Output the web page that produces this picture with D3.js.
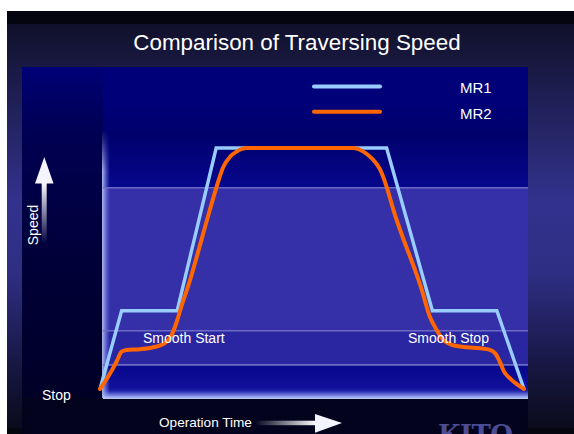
<!DOCTYPE html>
<html>
<head>
<meta charset="utf-8">
<script src="https://cdn.jsdelivr.net/npm/d3@7"></script>
<style>
  body { margin: 0; background: #fff; }
  svg text { font-family: "Liberation Sans", Arial, sans-serif; fill: #fff; }
</style>
</head>
<body>
<svg id="chart" width="574" height="434"></svg>
<script>
// time in % of the run, speed in % of top speed
var mr1Time  = [0, 5.1, 18.2, 27.4, 67.6, 78.4, 93.6, 100];
var mr1Speed = [0, 32.5, 32.5, 100, 100, 32.5, 32.5, 0];

var mr2Time  = [0, 2.4, 3.9, 5.1, 6.3, 9.4, 12.6, 15.3, 16.9, 18.1, 19.3, 20.5, 25.9, 27.5, 29.1, 30.7, 32.2, 34.6,
                59.7, 62.1, 64.1, 66.0, 67.6, 69.2, 75.9, 77.8, 79.4, 81.0, 83.0, 86.5, 89.6, 92.0, 93.2, 94.3, 95.3, 96.7, 98.3, 100];
var mr2Speed = [0, 6.5, 11.3, 15.5, 16.2, 16.5, 17.3, 19.0, 22.4, 27.9, 34.9, 41.1, 74.3, 83.9, 92.2, 96.4, 98.5, 100,
                100, 98.5, 95.7, 91.3, 83.9, 74.3, 41.1, 30.0, 24.5, 20.3, 18.3, 17.3, 16.9, 16.2, 14.8, 11.3, 7.2, 4.4, 2.0, 0];

var gridSpeeds = [83.5, 24.2, 10];
var seriesNames = ["MR1", "MR2"];
var seriesColors = ["#99ccff", "#ff6600"];

var svg = d3.select("#chart");
var x = d3.scaleLinear().domain([0, 100]).range([100, 524]);
var y = d3.scaleLinear().domain([0, 100]).range([389, 148]);

var plotL = 103, plotR = 528, plotB = 398;

var defs = svg.append("defs");
function vGrad(id, stops) {
  var g = defs.append("linearGradient").attr("id", id)
      .attr("x1", 0).attr("y1", 0).attr("x2", 0).attr("y2", 1);
  stops.forEach(function(s) {
    g.append("stop").attr("offset", s[0]).attr("stop-color", s[1]).attr("stop-opacity", s[2] == null ? 1 : s[2]);
  });
}
function hGrad(id, stops) {
  var g = defs.append("linearGradient").attr("id", id)
      .attr("x1", 0).attr("y1", 0).attr("x2", 1).attr("y2", 0);
  stops.forEach(function(s) {
    g.append("stop").attr("offset", s[0]).attr("stop-color", s[1]).attr("stop-opacity", s[2] == null ? 1 : s[2]);
  });
}
vGrad("slideGrad", [[0, "#0e0e22"], [0.12, "#181840"], [0.45, "#32328e"], [0.62, "#2e2e84"], [0.85, "#161640"], [1, "#0a0a18"]]);
vGrad("leftGrad", [[0, "#000030", 0], [0.2, "#000040", 0.7], [0.5, "#00003a", 1], [1, "#000022", 1]]);
vGrad("topPlot", [[0, "#000078"], [0.35, "#00006c"], [1, "#07078e"]]);
vGrad("lowPlot", [[0, "#08088c"], [0.7, "#10109a"], [1, "#4a58d0"]]);
vGrad("glowB", [[0, "#8090e8", 0], [1, "#c8d4ff", 1]]);
hGrad("glowL", [[0, "#c0ccff", 0.9], [1, "#8090ff", 0]]);
vGrad("glowLfade", [[0, "#fff", 0], [0.15, "#fff", 1], [1, "#fff", 1]]);
vGrad("upShaft", [[0, "#ffffff"], [1, "#ffffff", 0]]);
hGrad("rightShaft", [[0, "#ffffff", 0], [1, "#ffffff"]]);
defs.append("mask").attr("id", "fadeTop").append("rect")
    .attr("x", 0).attr("y", 130).attr("width", 574).attr("height", 270).attr("fill", "url(#glowLfade)");

// slide background
svg.append("rect").attr("x", 7).attr("y", 11).attr("width", 567).attr("height", 423).attr("fill", "url(#slideGrad)");
svg.append("rect").attr("x", 7).attr("y", 11).attr("width", 567).attr("height", 13).attr("fill", "#05050f");
svg.append("rect").attr("x", 7).attr("y", 428).attr("width", 567).attr("height", 6).attr("fill", "#06060e");

// panel
svg.append("rect").attr("x", 22).attr("y", 67).attr("width", 506).attr("height", 367).attr("fill", "#000078");

// plot area bands
svg.append("rect").attr("x", plotL).attr("y", 105).attr("width", plotR - plotL).attr("height", y(gridSpeeds[0]) - 105).attr("fill", "url(#topPlot)");
svg.append("rect").attr("x", plotL).attr("y", y(gridSpeeds[0])).attr("width", plotR - plotL)
    .attr("height", y(gridSpeeds[1]) - y(gridSpeeds[0])).attr("fill", "#3530a8");
svg.append("rect").attr("x", plotL).attr("y", y(gridSpeeds[1])).attr("width", plotR - plotL)
    .attr("height", y(gridSpeeds[2]) - y(gridSpeeds[1])).attr("fill", "#2a26a2");
svg.append("rect").attr("x", plotL).attr("y", y(gridSpeeds[2])).attr("width", plotR - plotL)
    .attr("height", plotB - y(gridSpeeds[2])).attr("fill", "url(#lowPlot)");
svg.append("rect").attr("x", 22).attr("y", 67).attr("width", plotL - 22).attr("height", 367).attr("fill", "url(#leftGrad)");
svg.append("rect").attr("x", 22).attr("y", plotB).attr("width", 506).attr("height", 434 - plotB).attr("fill", "#03031e");

// soft edges of the plot
svg.append("rect").attr("x", plotL - 1).attr("y", 130).attr("width", 8).attr("height", plotB - 130)
    .attr("fill", "url(#glowL)").attr("mask", "url(#fadeTop)");
svg.append("rect").attr("x", plotL).attr("y", plotB - 7).attr("width", plotR - plotL).attr("height", 8).attr("fill", "url(#glowB)");

// grid lines
svg.selectAll(".grid").data(gridSpeeds).enter().append("line")
    .attr("class", "grid")
    .attr("x1", plotL).attr("x2", plotR)
    .attr("y1", function(d) { return y(d); }).attr("y2", function(d) { return y(d); })
    .attr("stroke", "#6c6ac4").attr("stroke-width", 1.6);

// title
svg.append("text").attr("x", 297).attr("y", 50).attr("text-anchor", "middle")
    .style("font-size", "22.4px").text("Comparison of Traversing Speed");

// legend
var legend = svg.selectAll(".legend").data(seriesNames).enter().append("g").attr("class", "legend")
    .attr("transform", function(d, i) { return "translate(0," + (86.5 + i * 25.3) + ")"; });
legend.append("line").attr("x1", 314).attr("x2", 380).attr("y1", 0).attr("y2", 0)
    .attr("stroke", function(d, i) { return seriesColors[i]; })
    .attr("stroke-width", 4).attr("stroke-linecap", "round");
legend.append("text").attr("x", 460).attr("y", 6.8).style("font-size", "15px").text(function(d) { return d; });

// series
var mr1 = mr1Time.map(function(t, i) { return [t, mr1Speed[i]]; });
var mr2 = mr2Time.map(function(t, i) { return [t, mr2Speed[i]]; });

svg.append("path").datum(mr1)
    .attr("d", d3.line().x(function(d) { return x(d[0]); }).y(function(d) { return y(d[1]); }))
    .attr("fill", "none").attr("stroke", seriesColors[0]).attr("stroke-width", 3.4)
    .attr("stroke-linejoin", "miter");

svg.append("path").datum(mr2)
    .attr("d", d3.line().curve(d3.curveMonotoneX).x(function(d) { return x(d[0]); }).y(function(d) { return y(d[1]); }))
    .attr("fill", "none").attr("stroke", seriesColors[1]).attr("stroke-width", 4)
    .attr("stroke-linejoin", "round").attr("stroke-linecap", "round");

// annotations
svg.append("text").attr("x", 143).attr("y", 343).style("font-size", "14px").text("Smooth Start");
svg.append("text").attr("x", 408).attr("y", 343.3).style("font-size", "14px").text("Smooth Stop");
svg.append("text").attr("x", 42).attr("y", 400).style("font-size", "14px").text("Stop");

// speed axis arrow
svg.append("rect").attr("x", 41.7).attr("y", 182).attr("width", 5).attr("height", 62).attr("fill", "url(#upShaft)");
svg.append("path").attr("d", "M44.3,157 L53.5,183.5 L35,183.5 Z").attr("fill", "#f4f4ff");
svg.append("text").attr("transform", "translate(37.5,225) rotate(-90)").attr("text-anchor", "middle")
    .style("font-size", "14px").text("Speed");

// time axis arrow
svg.append("text").attr("x", 159).attr("y", 427.3).style("font-size", "13.6px").text("Operation Time");
svg.append("rect").attr("x", 255).attr("y", 420.7).attr("width", 61).attr("height", 4.5).attr("fill", "url(#rightShaft)");
svg.append("path").attr("d", "M315,414 L342,423 L315,432.7 Z").attr("fill", "#f4f4ff");

// logo, cut by the bottom edge as in the slide
svg.append("text").attr("x", 438).attr("y", 443).attr("textLength", 75)
    .style("font-family", "'DejaVu Serif', serif").style("font-weight", "bold").style("font-size", "26px")
    .style("fill", "#4c4c94").text("KITO");
</script>
</body>
</html>
